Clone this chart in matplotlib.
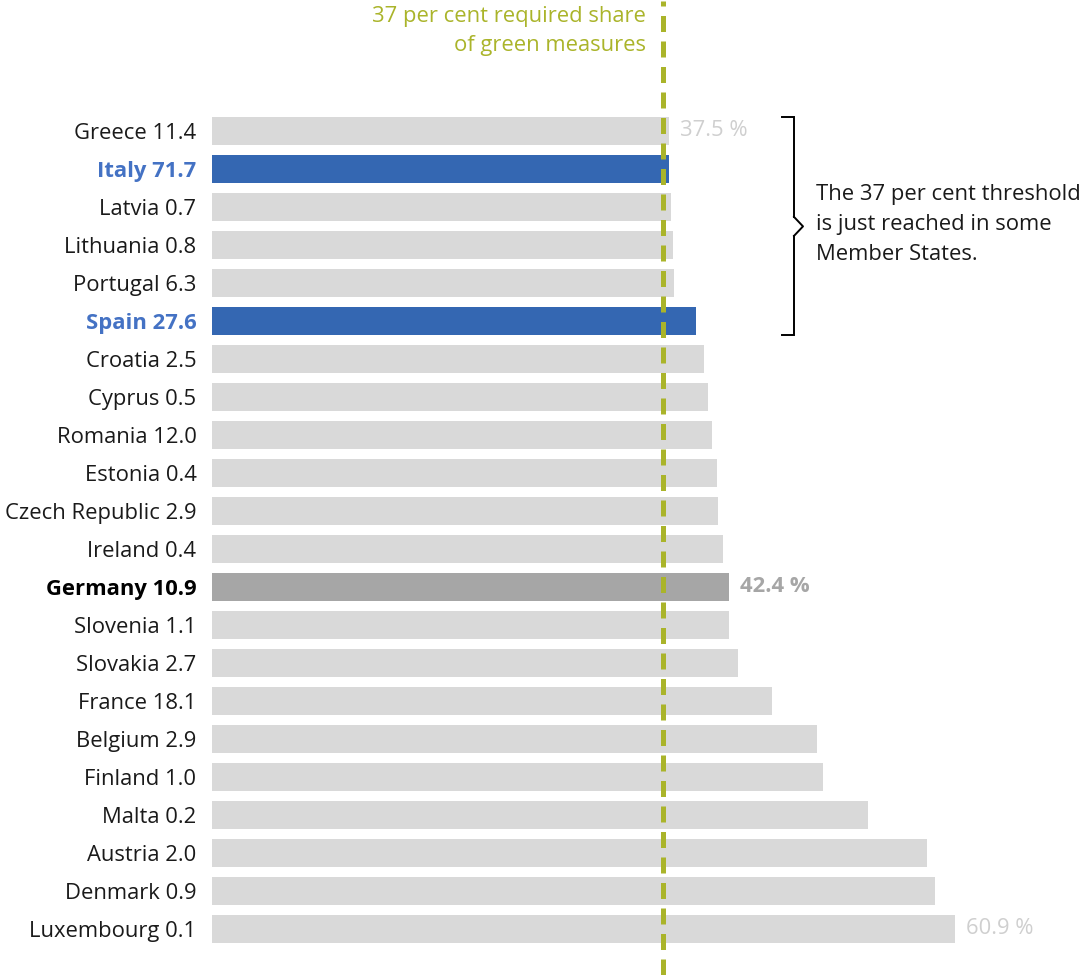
import matplotlib
matplotlib.use("Agg")
import matplotlib.pyplot as plt

plt.rcParams['font.family'] = ['Open Sans', 'DejaVu Sans']

countries = ["Greece", "Italy", "Latvia", "Lithuania", "Portugal", "Spain", "Croatia",
             "Cyprus", "Romania", "Estonia", "Czech Republic", "Ireland", "Germany",
             "Slovenia", "Slovakia", "France", "Belgium", "Finland", "Malta", "Austria",
             "Denmark", "Luxembourg"]
amounts = ["11.4", "71.7", "0.7", "0.8", "6.3", "27.6", "2.5", "0.5", "12.0", "0.4",
           "2.9", "0.4", "10.9", "1.1", "2.7", "18.1", "2.9", "1.0", "0.2", "2.0",
           "0.9", "0.1"]
green_share = [37.5, 37.5, 37.6, 37.8, 37.9, 39.7, 40.3, 40.7, 41.0, 41.4, 41.5, 41.9,
               42.4, 42.4, 43.1, 45.9, 49.6, 50.1, 53.8, 58.6, 59.3, 60.9]
threshold = 37
highlight_blue = ["Italy", "Spain"]
highlight_dark = ["Germany"]
value_labels = {"Greece": "37.5 %", "Germany": "42.4 %", "Luxembourg": "60.9 %"}

GRAY = "#d9d9d9"
BLUE = "#3467b2"
DARK = "#a6a6a6"
OLIVE = "#aab42a"
BLUE_TXT = "#4472c4"
FS = 15.8

fig = plt.figure(figsize=(10.87, 9.75), dpi=100)
ax = fig.add_axes([211.7 / 1087, 0, 1 - 211.7 / 1087, 1])
n = len(countries)
ypos = list(range(n))
colors = [BLUE if c in highlight_blue else DARK if c in highlight_dark else GRAY for c in countries]
ax.barh(ypos, green_share, height=0.73, color=colors, zorder=1)

ax.set_xlim(0, 875.3 / 12.205)
ax.set_ylim(21 + (975 - 929) / 38, -131 / 38)

for s in ax.spines.values():
    s.set_visible(False)
ax.set_xticks([])
ax.set_yticks(ypos)
labels = [f"{c} {a}" for c, a in zip(countries, amounts)]
ax.set_yticklabels(labels, fontsize=FS)
ax.tick_params(axis='y', length=0, pad=11)
for lab, c in zip(ax.get_yticklabels(), countries):
    if c in highlight_blue:
        lab.set_color(BLUE_TXT)
        lab.set_fontweight('bold')
    elif c in highlight_dark:
        lab.set_color('black')
        lab.set_fontweight('bold')
    else:
        lab.set_color('#1a1a1a')

# value labels
for i, c in enumerate(countries):
    if c in value_labels:
        bold = c in highlight_dark
        ax.text(green_share[i] + 0.9, i, value_labels[c], va='center', ha='left',
                fontsize=FS, color=DARK if bold else "#cfcfcf",
                fontweight='bold' if bold else 'normal')

# threshold line
ax.plot([threshold, threshold], [ax.get_ylim()[0], -3.42], color=OLIVE, lw=3.6,
        dashes=(3.2, 1.9), zorder=3, solid_capstyle='butt', dash_capstyle='butt')
ax.text(threshold - 1.45, -2.63, "37 per cent required share\nof green measures", ha='right',
        va='center', fontsize=FS, color=OLIVE, linespacing=1.55)

# bracket
xb = (794 - 211.7) / 12.205
xt = (782 - 211.7) / 12.205
xp = (803 - 211.7) / 12.205
y0 = -0.36
y1 = 5.38
ym = (y0 + y1) / 2
ax.plot([xt, xb, xb], [y0, y0, ym - 0.25], color='black', lw=1.4, solid_joinstyle='miter')
ax.plot([xb, xp, xb], [ym - 0.25, ym, ym + 0.25], color='black', lw=1.4)
ax.plot([xb, xb, xt], [ym + 0.25, y1, y1], color='black', lw=1.4, solid_joinstyle='miter')
ax.text((816 - 211.7) / 12.205, ym - 0.05, "The 37 per cent threshold\nis just reached in some\nMember States.",
        ha='left', va='center', fontsize=FS, color='#1a1a1a', linespacing=1.55)

fig.savefig("out.png", dpi=100)
